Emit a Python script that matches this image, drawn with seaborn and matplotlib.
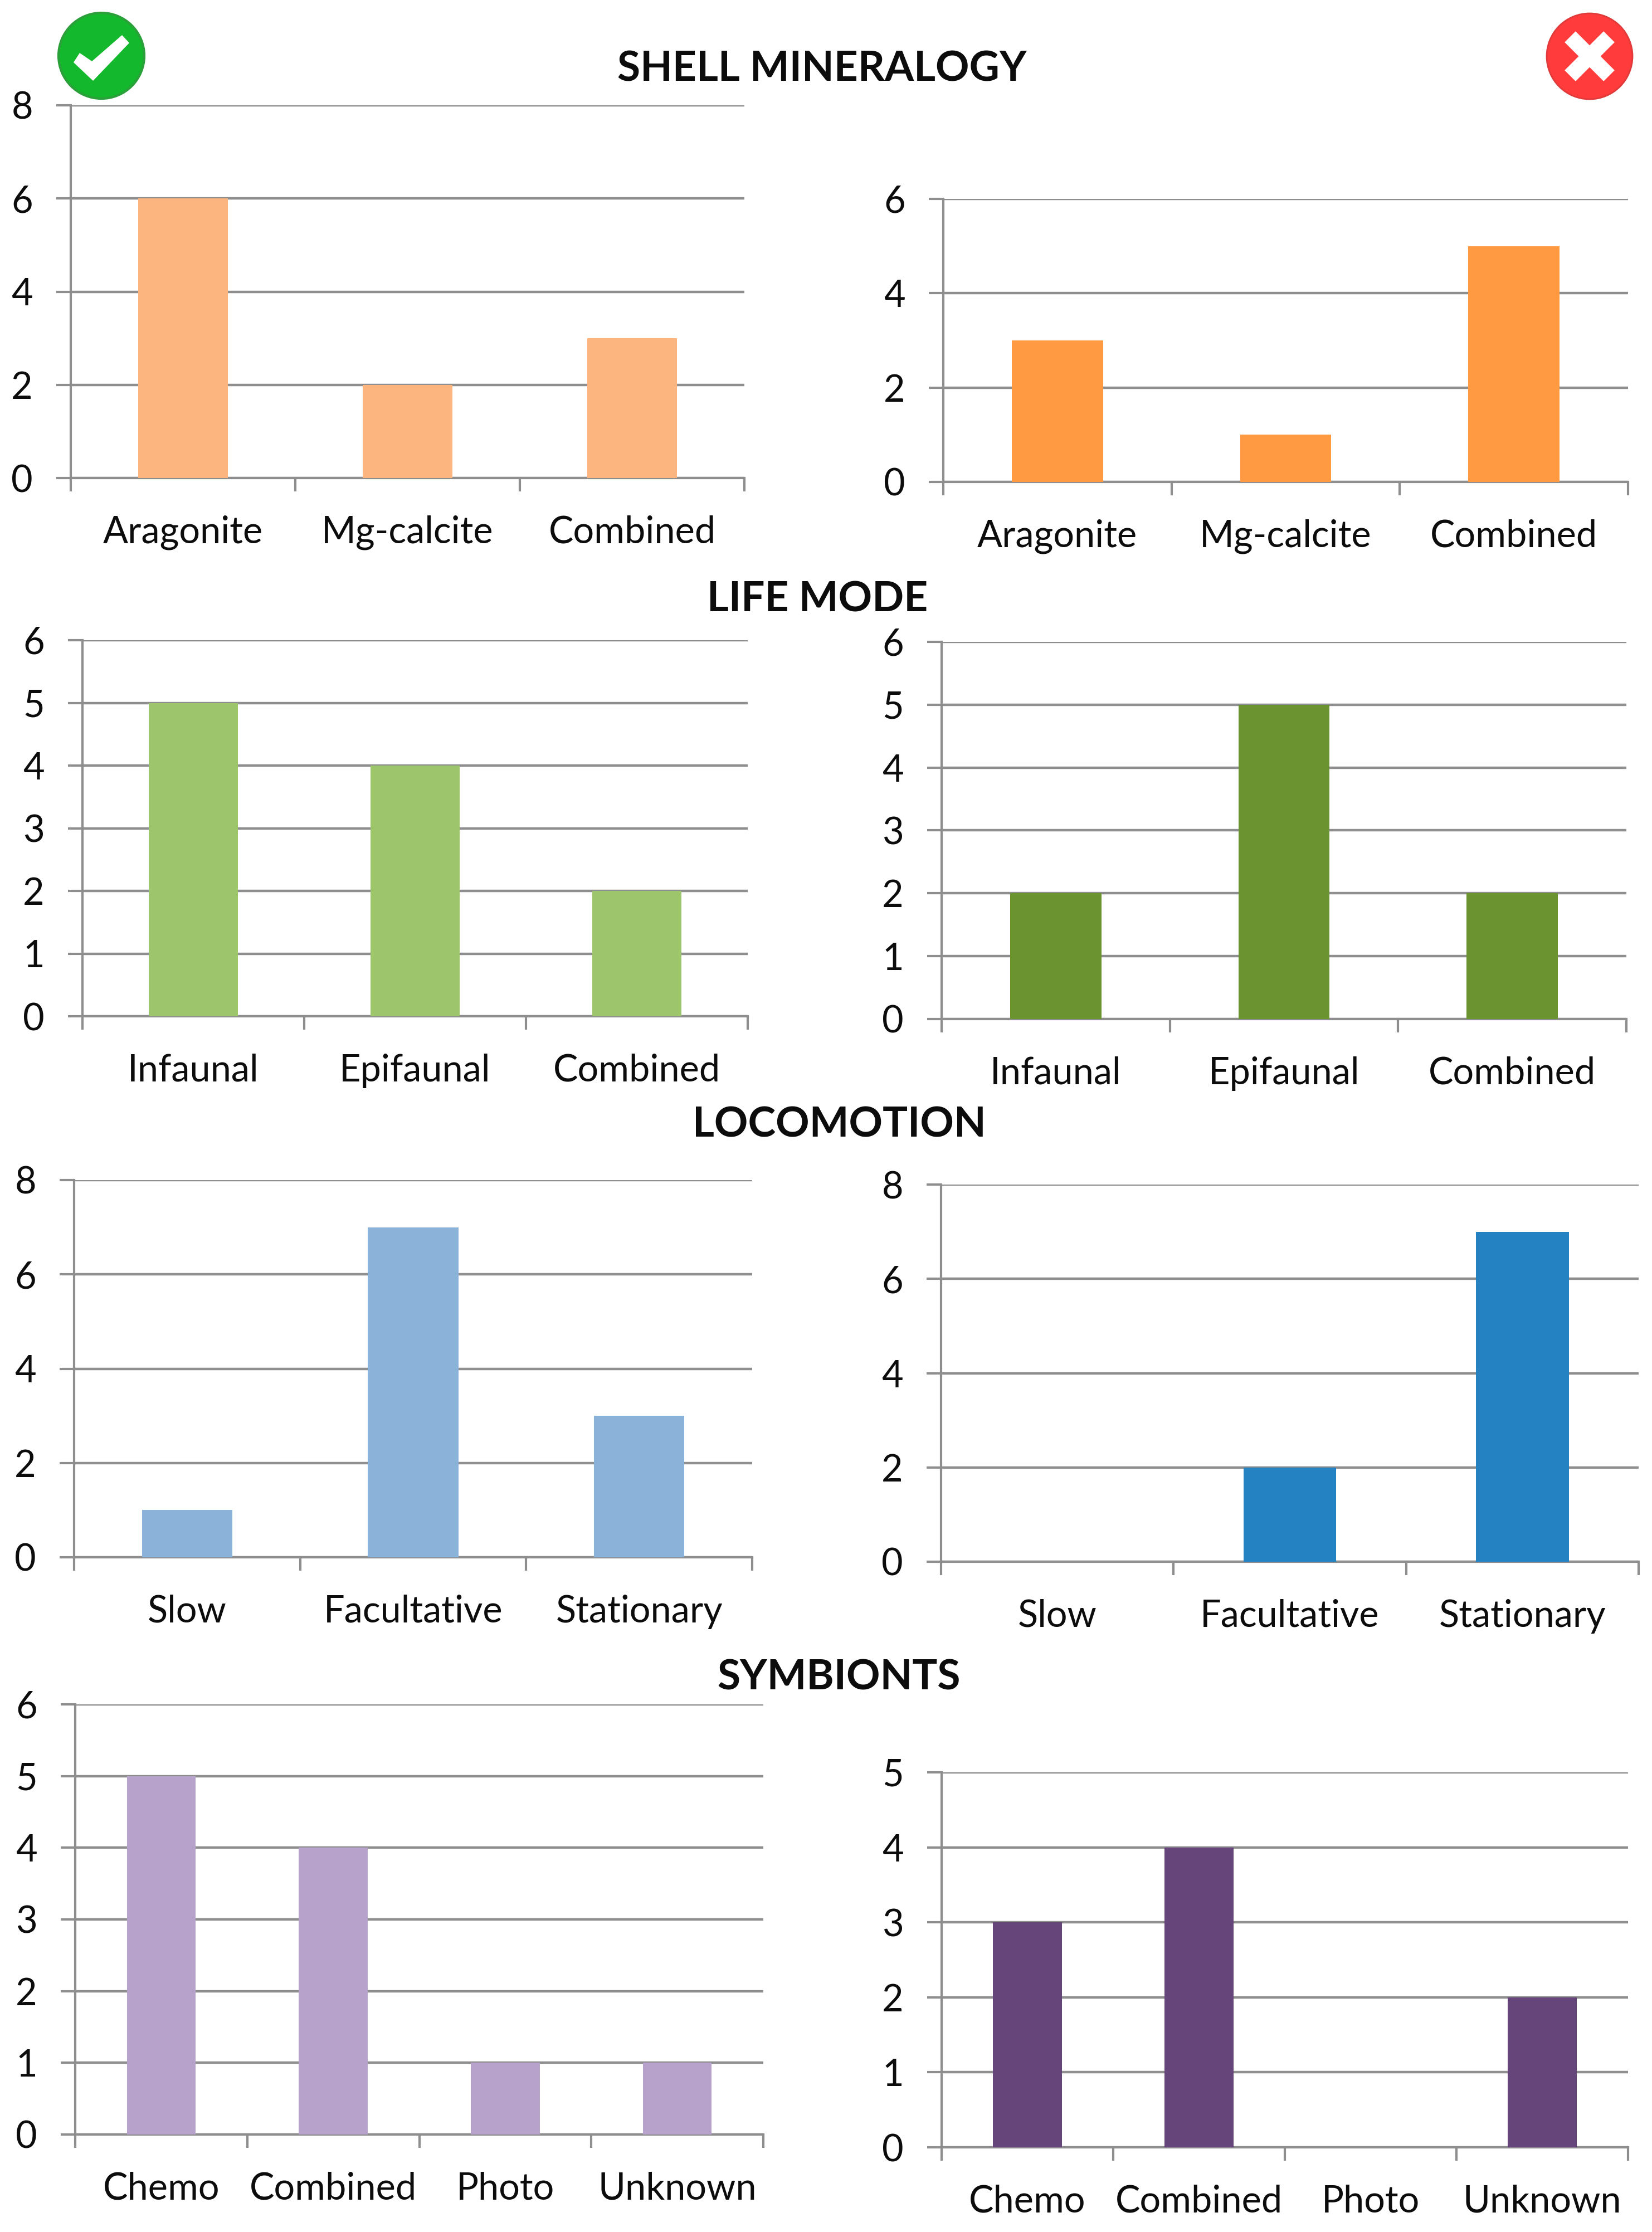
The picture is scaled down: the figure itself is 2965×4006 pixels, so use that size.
import matplotlib
matplotlib.use("Agg")
import matplotlib.pyplot as plt
from matplotlib.patches import Circle, Polygon
import seaborn as sns

WIDTH, HEIGHT = 2965, 4006

sns.set_style("white")
plt.rcParams['font.family'] = ['Lato', 'DejaVu Sans']

shell_cats = ["Aragonite", "Mg-calcite", "Combined"]
shell_good = [6, 2, 3]
shell_bad = [3, 1, 5]

life_cats = ["Infaunal", "Epifaunal", "Combined"]
life_good = [5, 4, 2]
life_bad = [2, 5, 2]

loco_cats = ["Slow", "Facultative", "Stationary"]
loco_good = [1, 7, 3]
loco_bad = [0, 2, 7]

symb_cats = ["Chemo", "Combined", "Photo", "Unknown"]
symb_good = [5, 4, 1, 1]
symb_bad = [3, 4, 0, 2]

GREY = "#8e8e8e"
TEXT = "#0c0c0c"

# left, right, top, bottom of each plot area in pixels, then y max, y step
panels = [
    (shell_cats, shell_good, "#fdb57f", (127, 1336, 189, 858), 8, 2),
    (shell_cats, shell_bad, "#ff9a42", (1693, 2922, 357, 865), 6, 2),
    (life_cats, life_good, "#9dc56c", (148, 1342, 1149, 1824), 6, 1),
    (life_cats, life_bad, "#6b9430", (1690, 2919, 1152, 1829), 6, 1),
    (loco_cats, loco_good, "#8bb3da", (133, 1350, 2118, 2795), 8, 2),
    (loco_cats, loco_bad, "#2481c2", (1689, 2941, 2126, 2803), 8, 2),
    (symb_cats, symb_good, "#b6a2cb", (135, 1370, 3059, 3831), 6, 1),
    (symb_cats, symb_bad, "#66457a", (1690, 2922, 3181, 3854), 5, 1),
]

titles = [
    ("SHELL MINERALOGY", 1475, 124),
    ("LIFE MODE", 1467, 1076),
    ("LOCOMOTION", 1506, 2019),
    ("SYMBIONTS", 1506, 3011),
]

fig = plt.figure(figsize=(WIDTH / 100, HEIGHT / 100), dpi=100)

for cats, vals, color, box, ymax, step in panels:
    left, right, top, bottom = box
    ax = fig.add_axes([left / WIDTH, 1 - bottom / HEIGHT,
                       (right - left) / WIDTH, (bottom - top) / HEIGHT])
    sns.barplot(x=cats, y=vals, color=color, saturation=1, width=0.4, ax=ax, zorder=3, linewidth=0)
    n = len(cats)
    ax.set_xlim(-0.5, n - 0.5)
    ax.set_ylim(0, ymax)
    ax.set_yticks(range(0, ymax + 1, step))
    ax.tick_params(axis="y", length=19, width=3, color=GREY, pad=30, labelsize=48, labelcolor=TEXT, left=True)

    # ticks sit between the categories, labels in the middle of them
    ax.set_xticks([i - 0.5 for i in range(n + 1)])
    ax.set_xticklabels([])
    ax.set_xticks(range(n), labels=cats, minor=True)
    ax.tick_params(axis="x", which="major", length=17, width=3, color=GREY, bottom=True)
    ax.tick_params(axis="x", which="minor", length=0, pad=48, labelsize=48, labelcolor=TEXT)

    ax.set_axisbelow(True)
    ax.grid(axis="y", color=GREY, linewidth=3.2)
    ax.grid(axis="x", visible=False)
    sns.despine(ax=ax)
    for side in ["left", "bottom"]:
        ax.spines[side].set_color(GREY)
        ax.spines[side].set_linewidth(3)

# titles and the two icons go on a layer in pixel coordinates
top_layer = fig.add_axes([0, 0, 1, 1], zorder=10)
top_layer.set_xlim(0, WIDTH)
top_layer.set_ylim(HEIGHT, 0)
top_layer.axis("off")

for label, x, y in titles:
    top_layer.text(x, y, label, ha="center", va="center", fontsize=54,
                   fontweight="bold", color=TEXT)

top_layer.add_patch(Circle((182, 100), 77, facecolor="#14b82c", edgecolor="#2ba03a", linewidth=3))
top_layer.add_patch(Polygon([(132, 112), (143, 95), (165, 110), (219, 63), (232, 77), (167, 145)],
                            closed=True, facecolor="white", edgecolor="none"))

top_layer.add_patch(Circle((2853, 101), 77, facecolor="#ff3b3b", edgecolor="#e03a3a", linewidth=2))
top_layer.plot([2818, 2888], [66, 136], color="white", linewidth=20, solid_capstyle="butt")
top_layer.plot([2818, 2888], [136, 66], color="white", linewidth=20, solid_capstyle="butt")

fig.savefig("out.png", dpi=100)
